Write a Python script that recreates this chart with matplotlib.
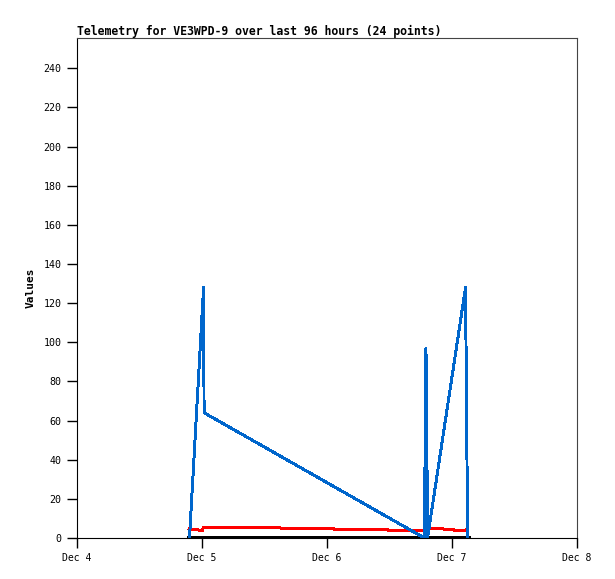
import matplotlib
matplotlib.use("Agg")
import matplotlib.pyplot as plt
from datetime import datetime, timedelta

base = datetime(2023, 12, 4)

# hours after Dec 4 00:00
blue_hours = [21.6, 24.3, 24.4, 66.7, 67.0, 67.1, 67.3, 74.6, 74.8, 75.0]
blue_vals = [0, 128, 64, 0, 97, 73, 0, 128, 64, 0]

red_hours = [21.5, 23.2, 23.6, 24.0, 24.3, 28.8, 29.0, 39.0, 39.2, 49.2, 49.4, 59.5, 59.7,
             66.6, 66.8, 70.3, 70.5, 72.2, 72.4, 74.8, 75.0]
red_vals = [4.6, 4.4, 3.6, 3.6, 5.6, 5.6, 5.3, 5.3, 5.0, 5.0, 4.5, 4.5, 3.9,
            3.9, 4.8, 4.8, 4.4, 4.4, 3.9, 3.9, 5.6]

black_hours = [21.5, 75.0]
black_vals = [0, 0]

day_ticks = [0, 1, 2, 3, 4]
day_labels = ["Dec 4", "Dec 5", "Dec 6", "Dec 7", "Dec 8"]
y_ticks = list(range(0, 241, 20))


def to_dt(hours):
    return [base + timedelta(hours=h) for h in hours]


fig = plt.figure(figsize=(6.15, 5.79), dpi=100)
ax = fig.add_axes([77 / 615, 41 / 579, 500 / 615, 500 / 579])

mono = "DejaVu Sans Mono"
ax.plot(to_dt(black_hours), black_vals, color="black", lw=2.2, antialiased=False)
ax.plot(to_dt(red_hours), red_vals, color="#ff0000", lw=1.4, antialiased=False)
ax.plot(to_dt(blue_hours), blue_vals, color="#0066cc", lw=1.4, antialiased=False)

ax.set_xlim(base, base + timedelta(days=4))
ax.set_ylim(0, 255.5)
ax.set_xticks([base + timedelta(days=d) for d in day_ticks])
ax.set_xticklabels(day_labels, family=mono, fontsize=7)
ax.set_yticks(y_ticks)
ax.set_yticklabels([str(v) for v in y_ticks], family=mono, fontsize=7.2)
ax.tick_params(axis="both", length=7, width=1, direction="out", pad=4)

for side in ["left", "bottom"]:
    ax.spines[side].set_color("black")
for side in ["top", "right"]:
    ax.spines[side].set_color("#444444")

ax.set_ylabel("Values", family=mono, fontsize=8, fontweight="bold", labelpad=6)
fig.text(77 / 615, 1 - 31 / 579, "Telemetry for VE3WPD-9 over last 96 hours (24 points)",
         family=mono, fontsize=8.3, fontweight="bold", ha="left", va="center")

fig.savefig("out.png", dpi=100)
